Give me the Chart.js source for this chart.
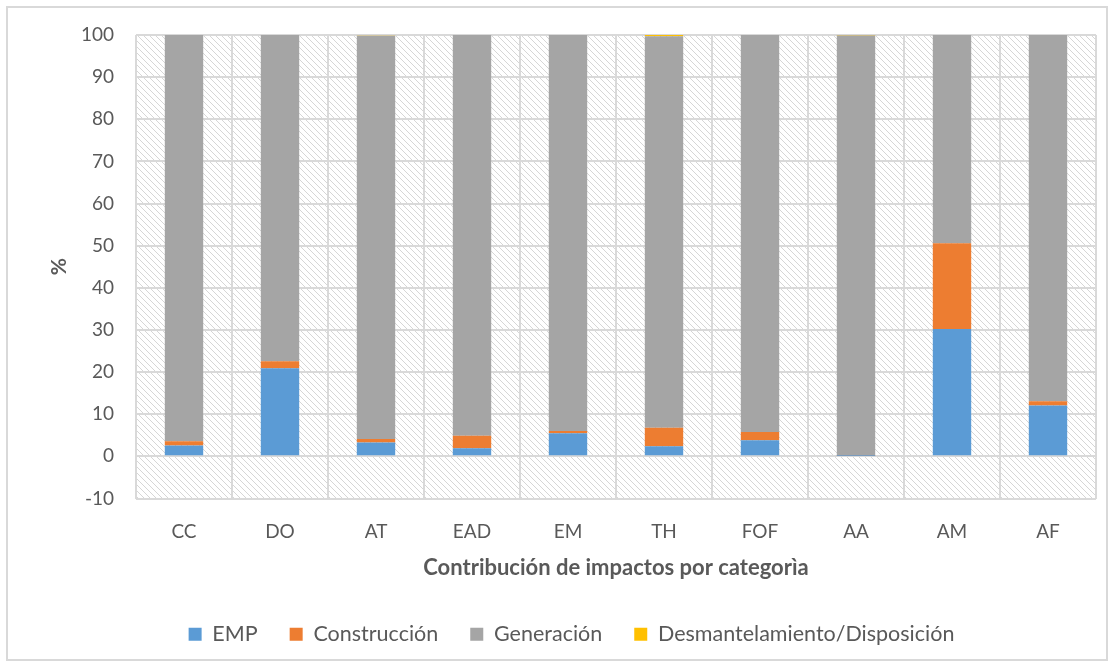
<!DOCTYPE html>
<html><head><meta charset="utf-8">
<script src="https://cdn.jsdelivr.net/npm/chart.js@4/dist/chart.umd.min.js"></script>
<style>html,body{margin:0;padding:0;background:#fff}#wrap{width:1114px;height:669px}</style>
</head><body><div id="wrap"><canvas id="c" width="1114" height="669"></canvas></div>
<script>
const categories = ['CC','DO','AT','EAD','EM','TH','FOF','AA','AM','AF'];
const empValues = [2.6, 20.9, 3.3, 1.9, 5.5, 2.4, 3.8, 0.1, 30.2, 12.1];
const construccionValues = [1.0, 1.7, 0.8, 3.0, 0.5, 4.4, 2.0, 0.1, 20.4, 1.0];
const generacionValues = [96.4, 77.4, 95.7, 95.1, 94.0, 92.9, 94.2, 99.7, 49.4, 86.9];
const desmantelamientoValues = [0.0, 0.0, 0.1, 0.0, 0.0, 0.3, 0.0, 0.1, 0.0, 0.0];
const yTicks = [-10,0,10,20,30,40,50,60,70,80,90,100];

const FONT = 'Lato, "Liberation Sans", sans-serif';
const TXT = '#595959';

function makePattern(){
  const p = document.createElement('canvas');
  p.width = 6; p.height = 6;
  const g = p.getContext('2d');
  g.fillStyle = '#ffffff'; g.fillRect(0,0,6,6);
  g.fillStyle = '#d6d6d6';
  for(let i=0;i<6;i++){ g.fillRect(i,i,1,1); }
  return p;
}

const bgPlugin = {
  id:'bg',
  beforeDraw(chart){
    const {ctx, chartArea:a} = chart;
    ctx.save();
    ctx.fillStyle = '#fff';
    ctx.fillRect(0,0,chart.width,chart.height);
    ctx.strokeStyle = '#d9d9d9'; ctx.lineWidth = 2;
    ctx.strokeRect(7,7,1100,653);
    ctx.fillStyle = ctx.createPattern(makePattern(),'repeat');
    ctx.fillRect(a.left,a.top,a.right-a.left,a.bottom-a.top);
    ctx.restore();
  }
};

new Chart(document.getElementById('c'),{
  type:'bar',
  data:{
    labels:categories,
    datasets:[
      {label:'EMP',data:empValues,backgroundColor:'#5B9BD5'},
      {label:'Construcción',data:construccionValues,backgroundColor:'#ED7D31'},
      {label:'Generación',data:generacionValues,backgroundColor:'#A5A5A5'},
      {label:'Desmantelamiento/Disposición',data:desmantelamientoValues,backgroundColor:'#FFC000'}
    ]
  },
  options:{
    responsive:false,
    animation:false,
    devicePixelRatio:1,
    layout:{padding:{left:47,right:18,top:35,bottom:14}},
    datasets:{bar:{categoryPercentage:1,barPercentage:0.4}},
    plugins:{
      legend:{position:'bottom',labels:{font:{family:FONT,size:21.5},color:TXT,boxWidth:13,boxHeight:13,padding:32,useBorderRadius:false}},
      tooltip:{enabled:false}
    },
    scales:{
      x:{stacked:true,
        grid:{color:'#d9d9d9',lineWidth:2,drawTicks:false},
        border:{display:false},
        ticks:{font:{family:FONT,size:19},color:TXT,padding:22},
        title:{display:true,text:'Contribución de impactos por categorìa',font:{family:FONT,size:22,weight:'bold'},color:TXT,padding:{top:0,bottom:10}},
        afterFit(s){ s.height = 93; }
      },
      y:{stacked:true,min:-10,max:100,
        grid:{color:'#d9d9d9',lineWidth:2,drawTicks:false},
        border:{display:false},
        afterBuildTicks(s){ s.ticks = yTicks.map(v=>({value:v})); },
        ticks:{font:{family:FONT,size:19},color:TXT,padding:22},
        title:{display:true,text:'%',font:{family:FONT,size:21,weight:'bold'},color:TXT,padding:{top:0,bottom:0}},
        afterFit(s){ s.width = 89; }
      }
    }
  },
  plugins:[bgPlugin]
});
</script></body></html>
